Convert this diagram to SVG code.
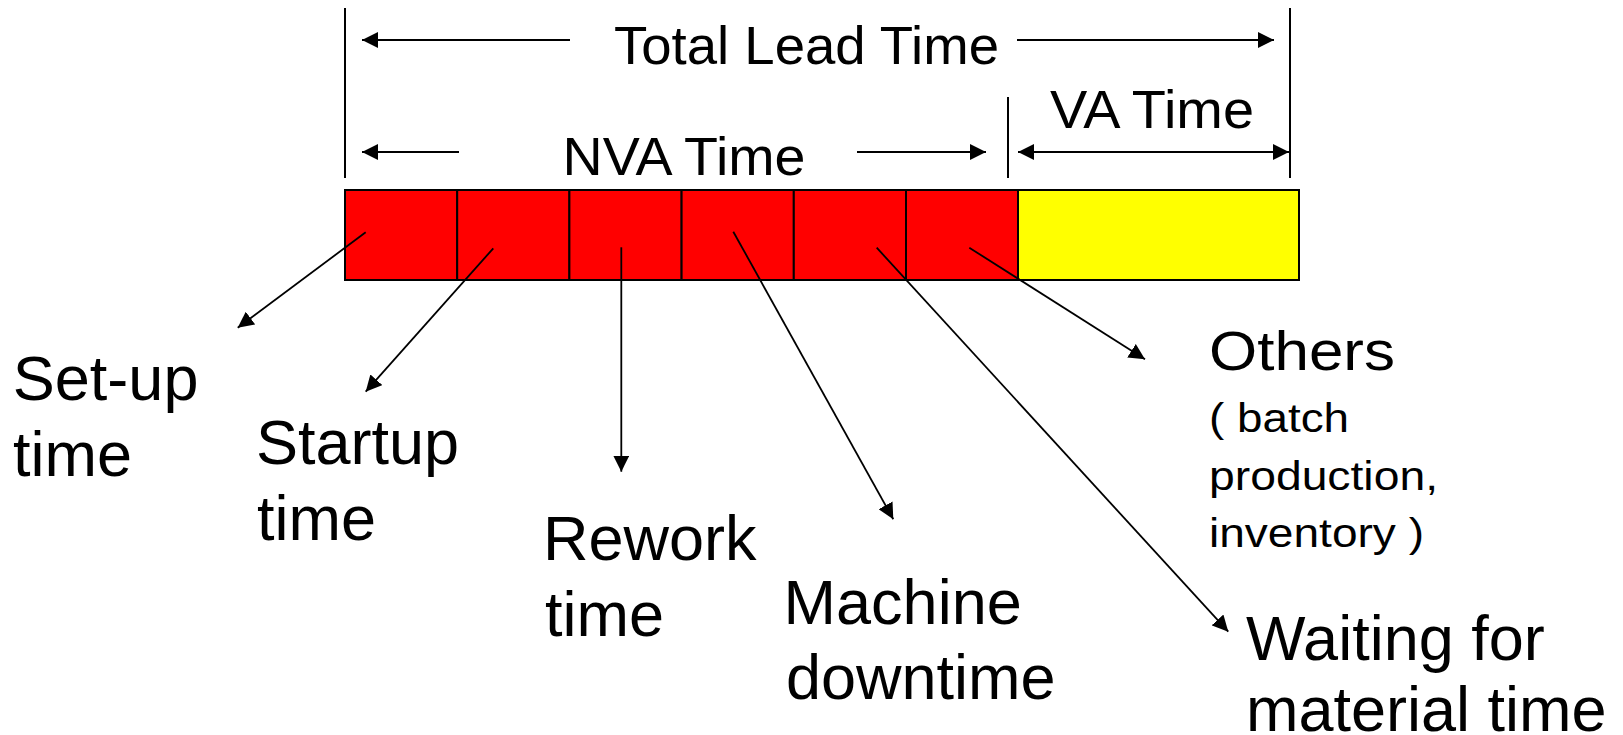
<svg xmlns="http://www.w3.org/2000/svg" width="1623" height="735" viewBox="0 0 1623 735">
<style>
text{font-family:"Liberation Sans",Arial,sans-serif;fill:#000}
.big{font-size:63px}
.hdr{font-size:53px}
.oth{font-size:56px}
.sm{font-size:40px}
.ln{stroke:#000;stroke-width:2;fill:none}
.con{stroke:#000;stroke-width:1.8;fill:none;marker-end:url(#ah)}
.cell{stroke:#000;stroke-width:2}
</style>
<defs>
<marker id="ah" markerUnits="userSpaceOnUse" markerWidth="16" markerHeight="16" refX="15" refY="7.5" orient="auto-start-reverse" viewBox="0 0 15 15">
<path d="M0,0 L15,7.5 L0,15 z" fill="#000"/>
</marker>
</defs>
<g id="dimensions">
<line class="ln" x1="345" y1="8" x2="345" y2="178"/>
<line class="ln" x1="1290" y1="8" x2="1290" y2="178"/>
<line class="ln" x1="1008" y1="97" x2="1008" y2="178"/>
<line class="ln" x1="570" y1="40" x2="362" y2="40" marker-end="url(#ah)"/>
<line class="ln" x1="1017" y1="40" x2="1274" y2="40" marker-end="url(#ah)"/>
<line class="ln" x1="459" y1="152" x2="362" y2="152" marker-end="url(#ah)"/>
<line class="ln" x1="857" y1="152" x2="986" y2="152" marker-end="url(#ah)"/>
<line class="ln" x1="1018" y1="152" x2="1289" y2="152" marker-start="url(#ah)" marker-end="url(#ah)"/>
<text class="hdr" x="614" y="64" textLength="385" lengthAdjust="spacingAndGlyphs">Total Lead Time</text>
<text class="hdr" x="562.5" y="175" textLength="243" lengthAdjust="spacingAndGlyphs">NVA Time</text>
<text class="hdr" x="1050" y="128" textLength="204" lengthAdjust="spacingAndGlyphs">VA Time</text>
</g>
<g id="bar">
<rect class="cell" x="345" y="190" width="112.2" height="90" fill="#ff0000"/>
<rect class="cell" x="457.2" y="190" width="112.2" height="90" fill="#ff0000"/>
<rect class="cell" x="569.4" y="190" width="112.2" height="90" fill="#ff0000"/>
<rect class="cell" x="681.6" y="190" width="112.2" height="90" fill="#ff0000"/>
<rect class="cell" x="793.8" y="190" width="112.2" height="90" fill="#ff0000"/>
<rect class="cell" x="906" y="190" width="112" height="90" fill="#ff0000"/>
<rect class="cell" x="1018" y="190" width="281" height="90" fill="#ffff00"/>
</g>
<g id="connectors">
<line class="con" x1="365.7" y1="232.3" x2="237.7" y2="327.7"/>
<line class="con" x1="493.3" y1="248.3" x2="365.7" y2="391.7"/>
<line class="con" x1="621.3" y1="247.3" x2="621.3" y2="471.7"/>
<line class="con" x1="733.3" y1="231.7" x2="893.3" y2="519.3"/>
<line class="con" x1="876.7" y1="247.7" x2="1228.3" y2="631.7"/>
<line class="con" x1="969.3" y1="247.7" x2="1145" y2="359.3"/>
</g>
<g id="setup"><text class="big" x="12.8" y="400">Set-up</text><text class="big" x="13" y="476">time</text></g>
<g id="startup"><text class="big" x="256" y="464">Startup</text><text class="big" x="257" y="540">time</text></g>
<g id="rework"><text class="big" x="543" y="560">Rework</text><text class="big" x="545" y="636">time</text></g>
<g id="machine"><text class="big" x="783.6" y="624">Machine</text><text class="big" x="786" y="699">downtime</text></g>
<g id="others">
<text class="oth" x="1209" y="370" textLength="186" lengthAdjust="spacingAndGlyphs">Others</text>
<text class="sm" x="1209" y="432" textLength="140" lengthAdjust="spacingAndGlyphs">( batch</text>
<text class="sm" x="1209" y="490" textLength="229" lengthAdjust="spacingAndGlyphs">production,</text>
<text class="sm" x="1209" y="547" textLength="215" lengthAdjust="spacingAndGlyphs">inventory )</text>
</g>
<g id="waiting"><text class="big" x="1246" y="660">Waiting for</text><text class="big" x="1246" y="731">material time</text></g>
</svg>
